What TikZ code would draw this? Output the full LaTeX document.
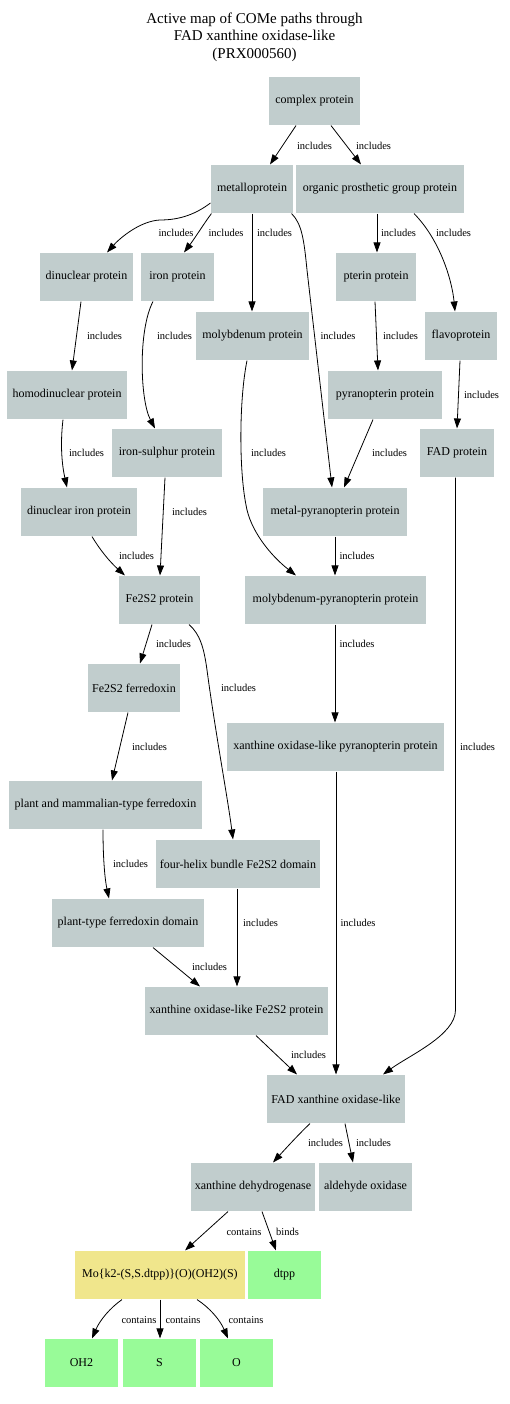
\documentclass[tikz,border=0pt]{standalone}
\usepackage{fontspec}
\setmainfont{Liberation Serif}
\usetikzlibrary{arrows.meta,calc}
\definecolor{protgray}{HTML}{C1CDCD}
\definecolor{cplxkhaki}{HTML}{F0E68C}
\definecolor{ligreen}{HTML}{98FB98}
\tikzset{
  box/.style={rectangle, fill=protgray, inner xsep=4pt, inner ysep=0pt,
    minimum height=48.7pt, minimum width=72.7pt, font=\fontsize{12}{14}\selectfont},
  cplxbox/.style={box, fill=cplxkhaki},
  ligbox/.style={box, fill=ligreen},
  lbl/.style={inner sep=0pt, font=\fontsize{10.5}{12}\selectfont},
  conn/.style={line width=0.8pt, -{Triangle[length=10pt,width=7pt]}},
}
\begin{document}
\begin{tikzpicture}[x=1pt,y=-1pt]
\useasboundingbox (0,0) rectangle (510,1404);

\node[align=center, font=\fontsize{15}{17.5}\selectfont] (title) at (254.5,37)
  {Active map of COMe paths through\\FAD xanthine oxidase-like\\(PRX000560)};

% protein classes
\node[box, minimum width=91pt]    (cp)    at (314.5,101) {complex protein};
\node[box, minimum width=82.7pt]  (mp)    at (252,189)   {metalloprotein};
\node[box, minimum width=168pt]   (op)    at (380,189)   {organic prosthetic group protein};
\node[box, minimum width=93.7pt]  (dp)    at (86.5,277)  {dinuclear protein};
\node[box, minimum width=73pt]    (ip)    at (177.5,277) {iron protein};
\node[box, minimum width=80pt]    (pp)    at (376,277)   {pterin protein};
\node[box, minimum width=113pt]   (mop)   at (252.5,336) {molybdenum protein};
\node[box, minimum width=72.7pt]  (fp)    at (461,336)   {flavoprotein};
\node[box, minimum width=120.7pt] (hdp)   at (67,395)    {homodinuclear protein};
\node[box, minimum width=113.7pt] (pyp)   at (385,395)   {pyranopterin protein};
\node[box, minimum width=109.7pt] (isp)   at (167,453)   {iron-sulphur protein};
\node[box, minimum width=73.7pt]  (fadp)  at (457,453)   {FAD protein};
\node[box, minimum width=115.7pt] (dip)   at (79,512)    {dinuclear iron protein};
\node[box, minimum width=144.7pt] (mpp)   at (335,512)   {metal-pyranopterin protein};
\node[box, minimum width=80.7pt]  (fsp)   at (159.5,600) {Fe2S2 protein};
\node[box, minimum width=181pt]   (mopp)  at (335.5,600) {molybdenum-pyranopterin protein};
\node[box, minimum width=92.7pt]  (fsf)   at (134,688)   {Fe2S2 ferredoxin};
\node[box, minimum width=217pt]   (xopp)  at (335.5,747) {xanthine oxidase-like pyranopterin protein};
\node[box, minimum width=193pt]   (pmf)   at (105.5,805) {plant and mammalian-type ferredoxin};
\node[box, minimum width=164.7pt] (fhb)   at (238,864)   {four-helix bundle Fe2S2 domain};
\node[box, minimum width=152.7pt] (ptf)   at (128,923)   {plant-type ferredoxin domain};
\node[box, minimum width=183pt]   (xofs)  at (236.5,1011) {xanthine oxidase-like Fe2S2 protein};
\node[box, minimum width=136.7pt] (fadxo) at (336,1099)  {FAD xanthine oxidase-like};
\node[box, minimum width=124.7pt] (xdh)   at (253,1187)  {xanthine dehydrogenase};
\node[box, minimum width=93pt]    (ao)    at (365.5,1187) {aldehyde oxidase};
% active site and ligands
\node[cplxbox, minimum width=169.7pt] (mo) at (160,1275) {Mo\{k2-(S,S.dtpp)\}(O)(OH2)(S)};
\node[ligbox] (dtpp) at (284.5,1275) {dtpp};
\node[ligbox] (oh2)  at (81.5,1363)  {OH2};
\node[ligbox] (s)    at (159.5,1363) {S};
\node[ligbox] (o)    at (236.5,1363) {O};

% connectors
\draw[conn] ($(cp.south)+(-18.5,0)$) -- ($(mp.north)+(18,0)$);
\draw[conn] ($(cp.south)+(16.5,0)$) -- ($(op.north)+(-19,0)$);
\draw[conn] ($(mp.west)+(0,14)$) .. controls (196,214) and (180,220) .. (160,220)
  .. controls (140,221) and (120,238) .. ($(dp.north)+(20.5,0)$);
\draw[conn] ($(mp.south west)+(1,0)$) .. controls (205,222) and (195,238) .. ($(ip.north)+(6.5,0)$);
\draw[conn] (mp.south) -- ($(mop.north)+(-0.5,0)$);
\draw[conn] ($(mp.south east)+(-2,0)$) .. controls (302,224) and (304,240) .. (307,270)
  -- ($(mpp.north)+(-3,0)$);
\draw[conn] ($(op.south)+(-3,0)$) -- ($(pp.north)+(1,0)$);
\draw[conn] ($(op.south)+(34,0)$) .. controls (440,240) and (452,280) .. ($(fp.north)+(-6,0)$);
\draw[conn] ($(dp.south)+(-5.5,0)$) -- ($(hdp.north)+(5,0)$);
\draw[conn] ($(ip.south)+(-24.5,0)$) .. controls (138,330) and (140,400) .. ($(isp.north)+(-12,0)$);
\draw[conn] ($(mop.south)+(-5.5,0)$) .. controls (239,400) and (239,470) .. (246,505)
  .. controls (250,530) and (270,555) .. ($(mopp.north)+(-39.5,0)$);
\draw[conn] ($(pp.south)+(-1,0)$) -- ($(pyp.north)+(-7,0)$);
\draw[conn] ($(fp.south)+(-1,0)$) -- (fadp.north);
\draw[conn] ($(hdp.south)+(-4,0)$) .. controls (60,445) and (62,465) .. ($(dip.north)+(-12,0)$);
\draw[conn] ($(pyp.south)+(-12,0)$) -- ($(mpp.north)+(9,0)$);
\draw[conn] ($(isp.south)+(-2,0)$) -- ($(fsp.north)+(0.5,0)$);
\draw[conn] ($(dip.south)+(13,0)$) .. controls (100,550) and (110,562) .. ($(fsp.north)+(-34.5,0)$);
\draw[conn] (mpp.south) -- ($(mopp.north)+(-0.5,0)$);
\draw[conn] ($(fsp.south)+(-7.5,0)$) -- ($(fsf.north)+(6,0)$);
\draw[conn] ($(fsp.south)+(29.5,0)$) .. controls (200,634) and (204,648) .. (207,670)
  .. controls (215,730) and (228,800) .. ($(fhb.north)+(-5,0)$);
\draw[conn] ($(mopp.south)+(-0.5,0)$) -- ($(xopp.north)+(-0.5,0)$);
\draw[conn] ($(fsf.south)+(-6,0)$) -- ($(pmf.north)+(6.5,0)$);
\draw[conn] ($(fadp.south)+(-1.5,0)$) -- (455.5,1010)
  .. controls (455.5,1035) and (410,1055) .. ($(fadxo.north)+(47,0)$);
\draw[conn] ($(pmf.south)+(-2.5,0)$) .. controls (103,860) and (105,880) .. ($(ptf.north)+(-19,0)$);
\draw[conn] ($(xopp.south)+(0.5,0)$) -- (fadxo.north);
\draw[conn] ($(fhb.south)+(-1,0)$) -- ($(xofs.north)+(0.5,0)$);
\draw[conn] ($(ptf.south)+(25,0)$) -- ($(xofs.north)+(-36.5,0)$);
\draw[conn] ($(xofs.south)+(19.5,0)$) -- ($(fadxo.north)+(-39,0)$);
\draw[conn] ($(fadxo.south)+(-26,0)$) .. controls (300,1133) and (288,1146) .. ($(xdh.north)+(20,0)$);
\draw[conn] ($(fadxo.south)+(9,0)$) -- ($(ao.north)+(-12.5,0)$);
\draw[conn] ($(xdh.south)+(-25,0)$) -- ($(mo.north)+(25,0)$);
\draw[conn] ($(xdh.south)+(9,0)$) -- ($(dtpp.north)+(-8.5,0)$);
\draw[conn] ($(mo.south)+(-38,0)$) .. controls (110,1308) and (100,1320) .. ($(oh2.north)+(10.5,0)$);
\draw[conn] (mo.south) -- ($(s.north)+(0.5,0)$);
\draw[conn] ($(mo.south)+(37,0)$) .. controls (210,1308) and (220,1320) .. ($(o.north)+(-8.5,0)$);

% connector labels
\node[lbl] (l1)  at (314.5,146) {includes};
\node[lbl] (l2)  at (373.5,146) {includes};
\node[lbl] (l3)  at (176,233)   {includes};
\node[lbl] (l4)  at (226,233)   {includes};
\node[lbl] (l5)  at (274.5,233) {includes};
\node[lbl] (l6)  at (398.5,233) {includes};
\node[lbl] (l7)  at (453.5,233) {includes};
\node[lbl] (l8)  at (104.5,336) {includes};
\node[lbl] (l9)  at (174.5,336) {includes};
\node[lbl] (l10) at (338,336)   {includes};
\node[lbl] (l11) at (400.5,336) {includes};
\node[lbl] (l12) at (481.5,395) {includes};
\node[lbl] (l13) at (86.5,453)  {includes};
\node[lbl] (l14) at (268.5,453) {includes};
\node[lbl] (l15) at (389.5,453) {includes};
\node[lbl] (l16) at (189.5,512) {includes};
\node[lbl] (l17) at (136.5,556) {includes};
\node[lbl] (l18) at (357,556)   {includes};
\node[lbl] (l19) at (173.5,644) {includes};
\node[lbl] (l20) at (357,644)   {includes};
\node[lbl] (l21) at (238.5,688) {includes};
\node[lbl] (l22) at (149.5,747) {includes};
\node[lbl] (l23) at (477.5,747) {includes};
\node[lbl] (l24) at (130.5,864) {includes};
\node[lbl] (l25) at (260.5,923) {includes};
\node[lbl] (l26) at (358,923)   {includes};
\node[lbl] (l27) at (209.5,967) {includes};
\node[lbl] (l28) at (308.5,1055) {includes};
\node[lbl] (l29) at (325.5,1143) {includes};
\node[lbl] (l30) at (373.5,1143) {includes};
\node[lbl] (l31) at (244,1232)  {contains};
\node[lbl] (l32) at (287.5,1232) {binds};
\node[lbl] (l33) at (139,1320)  {contains};
\node[lbl] (l34) at (183,1320)  {contains};
\node[lbl] (l35) at (246,1320)  {contains};
\end{tikzpicture}
\end{document}
